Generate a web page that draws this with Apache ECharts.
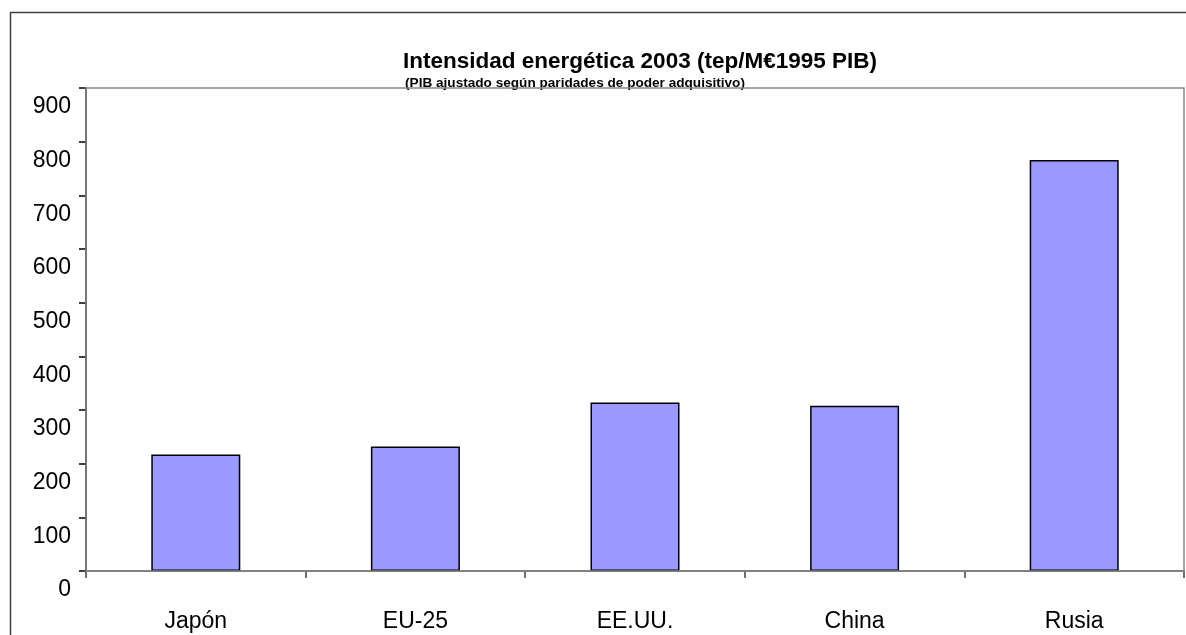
<!DOCTYPE html>
<html>
<head>
<meta charset="utf-8">
<script src="https://cdn.jsdelivr.net/npm/echarts@6/dist/echarts.min.js"></script>
<style>html,body{margin:0;padding:0;background:#fff}#c{width:1186px;height:635px}</style>
</head>
<body>
<div id="c"></div>
<script>
var categories = ['Japón', 'EU-25', 'EE.UU.', 'China', 'Rusia'];
var values = [217, 232, 314, 308, 766];
var titleText = 'Intensidad energética 2003 (tep/M€1995 PIB)';
var subtitleText = '(PIB ajustado según paridades de poder adquisitivo)';

var FONT = '"Liberation Sans", Arial, sans-serif';
var chart = echarts.init(document.getElementById('c'), null, {renderer: 'canvas'});
chart.setOption({
  animation: false,
  backgroundColor: '#fff',
  grid: {left: 86, right: 2, top: 88, bottom: 64, show: true, borderColor: '#888', borderWidth: 1.5, backgroundColor: 'transparent', z: 10},
  graphic: [
    {type: 'rect', z: 100, silent: true, shape: {x: 10.5, y: 12.5, width: 1190, height: 700}, style: {fill: 'none', stroke: '#404040', lineWidth: 1.5}},
    {type: 'text', z: 100, silent: true, x: 640, y: 62, style: {text: titleText, font: 'bold 22.5px ' + FONT, fill: '#000', align: 'center', verticalAlign: 'middle'}},
    {type: 'text', z: 0, silent: true, x: 575, y: 83, style: {text: subtitleText, font: 'bold 13.6px ' + FONT, fill: '#000', align: 'center', verticalAlign: 'middle'}}
  ],
  xAxis: {
    type: 'category',
    data: categories,
    axisLine: {lineStyle: {color: '#404040', width: 1.5}},
    axisTick: {show: true, alignWithLabel: false, length: 7, inside: false, lineStyle: {color: '#404040', width: 1.5}},
    axisLabel: {color: '#000', fontSize: 23, fontFamily: FONT, margin: 39, lineHeight: 23}
  },
  yAxis: {
    type: 'value',
    min: 0, max: 900, interval: 100,
    splitLine: {show: false},
    axisLine: {show: true, lineStyle: {color: '#000', width: 1.5}},
    axisTick: {show: true, length: 7, lineStyle: {color: '#000', width: 1.5}},
    axisLabel: {color: '#000', fontSize: 23, fontFamily: FONT, margin: 15, verticalAlign: 'top', lineHeight: 38}
  },
  series: [{
    type: 'bar',
    data: values,
    barWidth: 89,
    itemStyle: {color: '#9999FF', borderColor: '#000', borderWidth: 1.5}
  }]
});
</script>
</body>
</html>
